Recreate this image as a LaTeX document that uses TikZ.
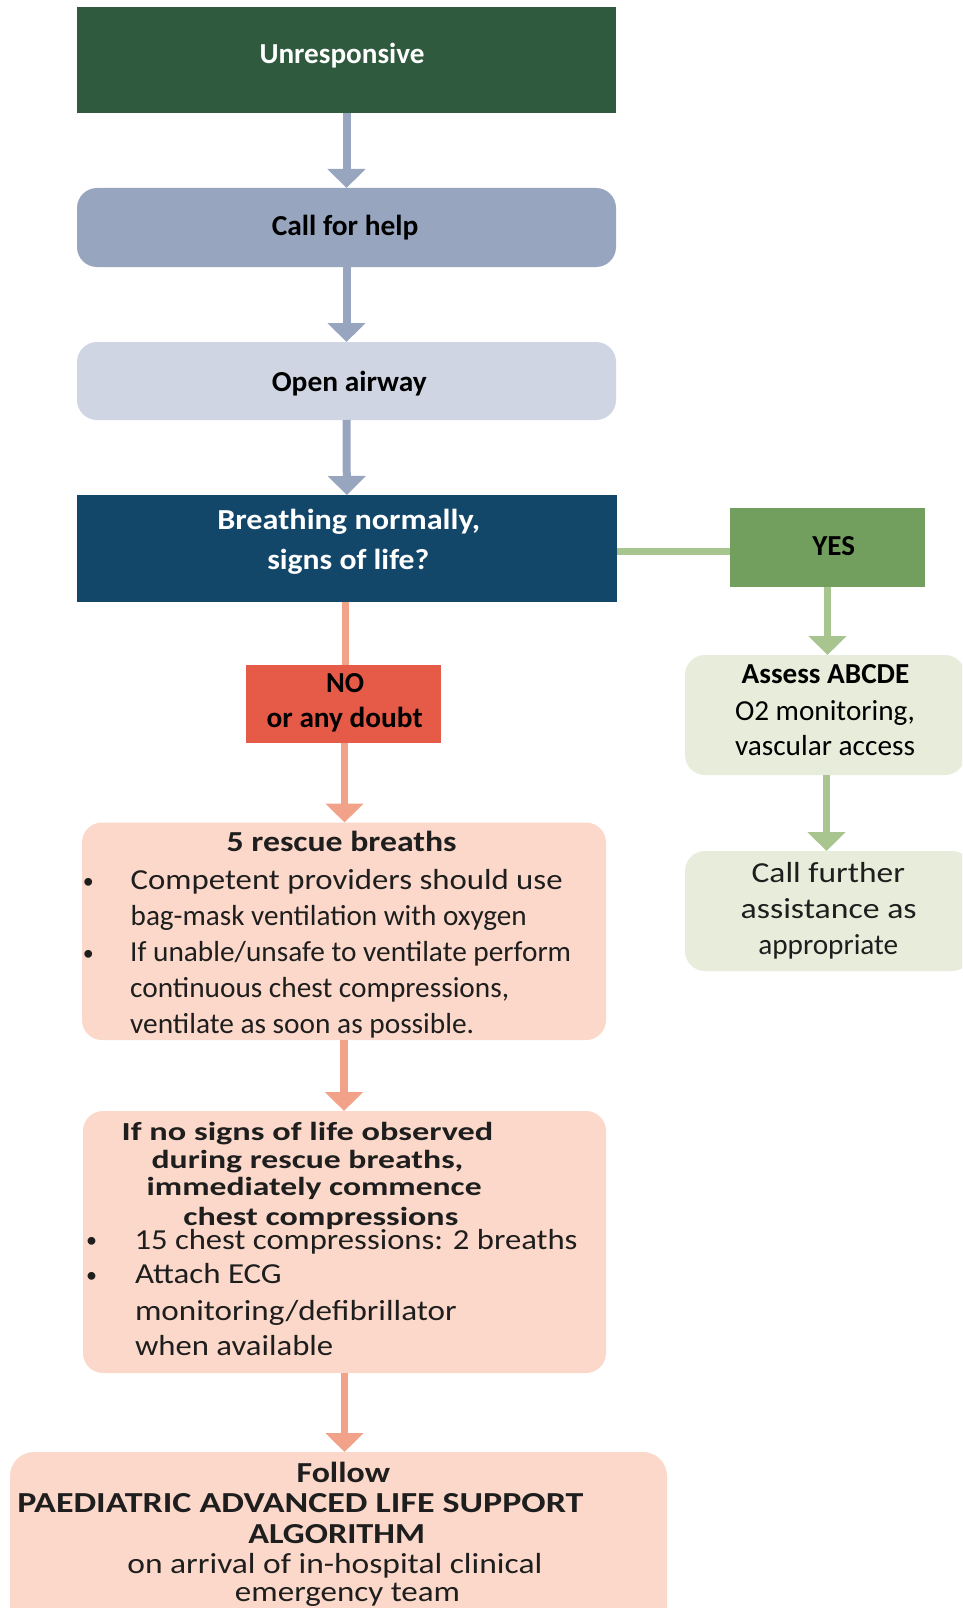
\documentclass[tikz,border=0pt]{standalone}
\usepackage{fontspec}
\setmainfont{Carlito}
\usepackage{graphicx}
\usetikzlibrary{arrows.meta}
\definecolor{cUnr}{HTML}{2F5A3D}
\definecolor{cHelp}{HTML}{97A5BF}
\definecolor{cAir}{HTML}{CFD5E2}
\definecolor{cBr}{HTML}{134769}
\definecolor{cYes}{HTML}{729F5E}
\definecolor{cGl}{HTML}{A8C48F}
\definecolor{cLg}{HTML}{E8ECDB}
\definecolor{cNo}{HTML}{E55B48}
\definecolor{cPk}{HTML}{F3A28A}
\definecolor{cPbox}{HTML}{FBD8C9}
\definecolor{cTxt}{HTML}{1E1E1E}
\newcommand{\fw}[2]{\resizebox{#1pt}{\height}{#2}}
\tikzset{
  box/.style={inner sep=0pt, outer sep=0pt, draw=none},
  rbox/.style={box, rounded corners=20pt},
  txt/.style={anchor=base, inner sep=0pt, outer sep=0pt, text=cTxt, font=\fontsize{29pt}{35pt}\selectfont},
  btxt/.style={anchor=base, inner sep=0pt, outer sep=0pt, text=cTxt, font=\fontsize{29pt}{35pt}\selectfont\bfseries},
  ctxt/.style={anchor=base, inner sep=0pt, outer sep=0pt, text=cTxt, font=\fontsize{26pt}{28pt}\selectfont\bfseries},
  ltxt/.style={txt, anchor=base west},
  bul/.style={anchor=base, inner sep=0pt, outer sep=0pt, text=cTxt, font=\fontsize{22pt}{26pt}\selectfont},
  blarrow/.style={draw=cHelp, line width=8pt, -{Triangle[width=37pt,length=19pt]}},
  pkarrow/.style={draw=cPk, line width=7.5pt, -{Triangle[width=37pt,length=19pt]}},
  pkline/.style={draw=cPk, line width=7pt},
  grarrow/.style={draw=cGl, line width=7.5pt, -{Triangle[width=37pt,length=19pt]}},
  grline/.style={draw=cGl, line width=7pt},
}
\begin{document}
\begin{tikzpicture}[x=1pt,y=-1pt]
\clip (0,0) rectangle (962,1608);
\fill[white] (0,0) rectangle (962,1608);

% boxes
\node[box, fill=cUnr, minimum width=539pt, minimum height=106pt] (unr) at (346.5,60) {};
\node[rbox, fill=cHelp, minimum width=539pt, minimum height=79pt] (help) at (346.5,227.5) {};
\node[rbox, fill=cAir, minimum width=539pt, minimum height=78pt] (air) at (346.5,381) {};
\node[box, fill=cBr, minimum width=539.7pt, minimum height=106.7pt] (brth) at (346.85,548.35) {};
\node[box, fill=cYes, minimum width=195pt, minimum height=78.4pt] (yes) at (827.5,547.5) {};
\node[box, fill=cNo, minimum width=195pt, minimum height=78.3pt] (no) at (343.5,704.2) {};
\node[rbox, fill=cLg, minimum width=280pt, minimum height=120pt] (assess) at (825,715) {};
\node[rbox, fill=cLg, minimum width=287pt, minimum height=120pt] (callf) at (828.5,911) {};
\node[rbox, fill=cPbox, minimum width=524pt, minimum height=217.5pt] (resc) at (344,931.25) {};
\node[rbox, fill=cPbox, minimum width=523pt, minimum height=262pt] (cpr) at (344.5,1242) {};
\node[box, rounded corners=24pt, fill=cPbox, minimum width=657pt, minimum height=188pt] (pals) at (338.5,1546) {};

% connectors
\draw[blarrow] (unr.south) -- (help.north);
\draw[blarrow] (help.south) -- (air.north);
\draw[blarrow] (air.south) -- (brth.north);
\coordinate (gy) at ([yshift=-3.5pt]yes.west);
\draw[grline] (brth.east |- gy) -- (gy);
\draw[grarrow] (yes.south) -- (yes.south |- assess.north);
\draw[grarrow] ([xshift=1.5pt]assess.south) -- ([xshift=1.5pt]assess.south |- callf.north);
\coordinate (nx) at ([xshift=1.5pt]no.north);
\draw[pkline] (brth.south -| nx) -- (nx);
\draw[pkarrow] ([xshift=1pt]no.south) -- ([xshift=1pt]no.south |- resc.north);
\draw[pkarrow] (resc.south) -- (resc.south |- cpr.north);
\draw[pkarrow] (cpr.south) -- (cpr.south |- pals.north);

% texts
\node[btxt, text=white] (t1) at (342,64) {\fw{165}{Unresponsive}};
\node[btxt, text=black] (t2) at (345.1,235.5) {\fw{146.6}{Call for help}};
\node[btxt, text=black] (t3) at (349.3,391.5) {\fw{154.9}{Open airway}};
\node[btxt, text=white] (t4a) at (348.7,529) {\fw{262.7}{Breathing normally,}};
\node[btxt, text=white] (t4b) at (348.3,569.5) {\fw{162}{signs of life?}};
\node[btxt, text=black] (t5) at (833.7,555) {\fw{42.7}{YES}};
\node[btxt, text=black] (t6a) at (345,692.5) {\fw{38}{NO}};
\node[btxt, text=black] (t6b) at (344.7,727) {\fw{156}{or any doubt}};
\node[btxt, text=black] (t7a) at (825.5,683.5) {\fw{167.6}{Assess ABCDE}};
\node[txt, text=black] (t7b) at (825,720) {\fw{180}{O2 monitoring,}};
\node[txt, text=black] (t7c) at (825,755.5) {\fw{180}{vascular access}};
\node[txt] (t8a) at (828.3,882.5) {\fw{153.3}{Call further}};
\node[txt] (t8b) at (828.7,918.5) {\fw{176}{assistance as}};
\node[txt] (t8c) at (828.3,954) {\fw{140}{appropriate}};

\node[btxt] (r0) at (341.7,851.5) {\fw{230}{5 rescue breaths}};
\node[bul] (rb1) at (88.3,888) {•};
\node[ltxt] (r1) at (130.7,889.5) {\fw{432}{Competent providers should use}};
\node[ltxt] (r2) at (130.7,925.5) {\fw{396}{bag-mask ventilation with oxygen}};
\node[bul] (rb2) at (88.3,960) {•};
\node[ltxt] (r3) at (130.2,961.5) {\fw{441}{If unable/unsafe to ventilate perform}};
\node[ltxt] (r4) at (130.2,997.5) {\fw{379}{continuous chest compressions,}};
\node[ltxt] (r5) at (130.2,1033) {\fw{344}{ventilate as soon as possible.}};

\node[ctxt] (c0a) at (307.5,1140.5) {\fw{371.7}{If no signs of life observed}};
\node[ctxt] (c0b) at (307.5,1168.5) {\fw{311.7}{during rescue breaths,}};
\node[ctxt] (c0c) at (314.2,1195.5) {\fw{335}{immediately commence}};
\node[ctxt] (c0d) at (320.8,1225) {\fw{275}{chest compressions}};
\node[bul] (cb1) at (91.7,1247.5) {•};
\node[ltxt] (c1) at (134.5,1249) {\fw{443}{15 chest compressions: 2 breaths}};
\node[bul] (cb2) at (91.7,1282.3) {•};
\node[ltxt] (c2) at (135,1283.8) {\fw{146.7}{Attach ECG}};
\node[ltxt] (c3) at (135,1320.5) {\fw{321.7}{monitoring/defibrillator}};
\node[ltxt] (c4) at (135,1355.5) {\fw{198.3}{when available}};

\node[btxt] (p1) at (343.3,1482.5) {\fw{93.3}{Follow}};
\node[btxt] (p2) at (300.5,1512.5) {\fw{566}{PAEDIATRIC ADVANCED LIFE SUPPORT}};
\node[btxt] (p3) at (336.7,1543) {\fw{176.7}{ALGORITHM}};
\node[txt] (p4) at (334.9,1573) {\fw{415}{on arrival of in-hospital clinical}};
\node[txt] (p5) at (347.5,1601.5) {\fw{225}{emergency team}};
\end{tikzpicture}
\end{document}
